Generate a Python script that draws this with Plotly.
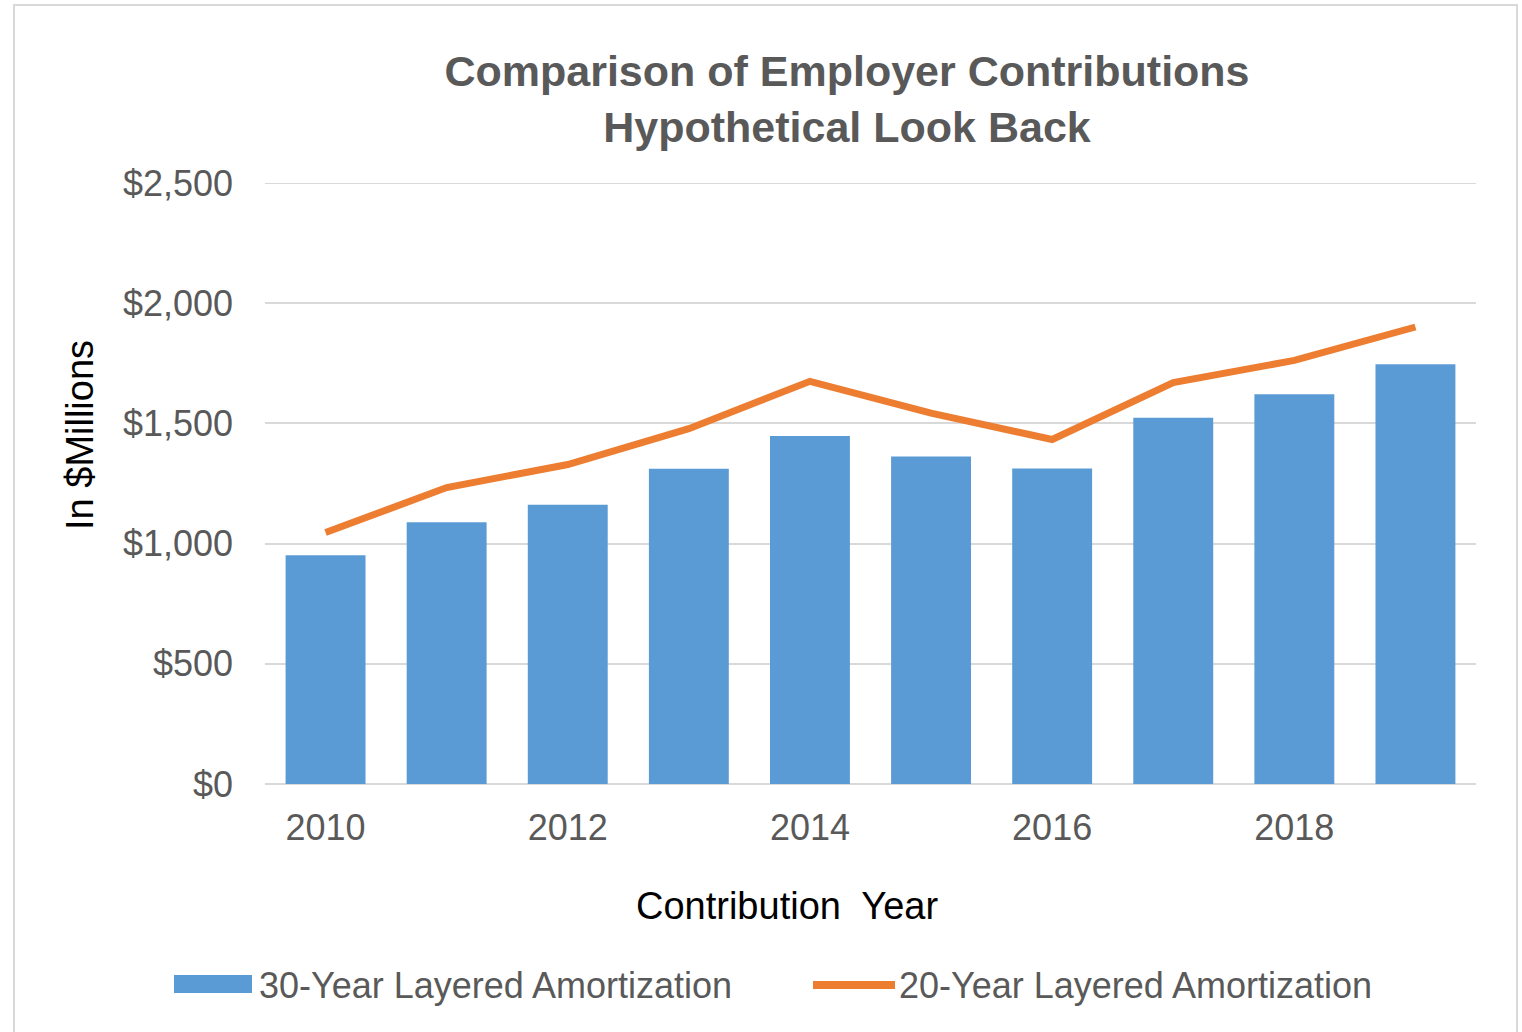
import plotly.graph_objects as go

# Contribution years and employer contributions (in $ millions)
years = [2010, 2011, 2012, 2013, 2014, 2015, 2016, 2017, 2018, 2019]
layered_30yr = [952, 1089, 1162, 1311, 1448, 1362, 1312, 1523, 1621, 1746]
layered_20yr = [1046, 1233, 1329, 1478, 1675, 1543, 1433, 1670, 1762, 1901]

series_names = ["30-Year Layered Amortization", "20-Year Layered Amortization"]
y_ticks = [0, 500, 1000, 1500, 2000, 2500]
y_tick_text = ["$0", "$500", "$1,000", "$1,500", "$2,000", "$2,500"]
x_ticks = [2010, 2012, 2014, 2016, 2018]

BLUE = "#5B9BD5"
ORANGE = "#ED7D31"
GRID = "#D9D9D9"
TEXT = "#595959"
FONT = "Liberation Sans, Arial, sans-serif"

W, H = 1522, 1032
ML, MR, MT, MB = 265, 46, 183, 248
PW, PH = W - ML - MR, H - MT - MB


def px_x(px):
    return (px - ML) / PW


def px_y(py):
    return (H - MB - py) / PH


fig = go.Figure()
fig.add_trace(go.Bar(x=years, y=layered_30yr, name=series_names[0],
                     marker=dict(color=BLUE, line=dict(width=0)),
                     showlegend=False))
fig.add_trace(go.Scatter(x=years, y=layered_20yr, name=series_names[1],
                         mode="lines", line=dict(color=ORANGE, width=7),
                         showlegend=False))

shapes = [
    # outer chart border
    dict(type="rect", xref="paper", yref="paper",
         x0=px_x(14), x1=px_x(1517), y0=px_y(1040), y1=px_y(5),
         line=dict(color=GRID, width=2), fillcolor="rgba(0,0,0,0)", layer="below"),
    # top gridline at $2,500 (sits on the edge of the plot area)
    dict(type="line", xref="paper", yref="y",
         x0=0, x1=1, y0=2500, y1=2500,
         line=dict(color=GRID, width=2), layer="below"),
    # legend swatches
    dict(type="rect", xref="paper", yref="paper",
         x0=px_x(174), x1=px_x(252), y0=px_y(993), y1=px_y(975),
         line=dict(width=0), fillcolor=BLUE),
    dict(type="line", xref="paper", yref="paper",
         x0=px_x(813), x1=px_x(895), y0=px_y(985), y1=px_y(985),
         line=dict(color=ORANGE, width=8)),
]

annotations = [
    dict(text=series_names[0], xref="paper", yref="paper",
         x=px_x(257), y=px_y(985), xanchor="left", yanchor="middle",
         showarrow=False, font=dict(family=FONT, size=36, color=TEXT)),
    dict(text=series_names[1], xref="paper", yref="paper",
         x=px_x(897), y=px_y(985), xanchor="left", yanchor="middle",
         showarrow=False, font=dict(family=FONT, size=36, color=TEXT)),
    dict(text="Contribution\u00a0 Year", xref="paper", yref="paper",
         x=px_x(787), y=px_y(906), xanchor="center", yanchor="middle",
         showarrow=False, font=dict(family=FONT, size=38, color="#000000")),
    dict(text="In $Millions", xref="paper", yref="paper", textangle=-90,
         x=px_x(80), y=px_y(435), xanchor="center", yanchor="middle",
         showarrow=False, font=dict(family=FONT, size=38, color="#000000")),
]

fig.update_layout(
    width=W, height=H,
    margin=dict(l=ML, r=MR, t=MT, b=MB, pad=0),
    paper_bgcolor="white", plot_bgcolor="white",
    bargap=0.34,
    title=dict(text="<b>Comparison of Employer Contributions<br>Hypothetical Look Back</b>",
               x=847 / W, xanchor="center", xref="container",
               y=1 - 86 / H, yanchor="middle", yref="container",
               font=dict(family=FONT, size=43, color=TEXT)),
    xaxis=dict(range=[2009.5, 2019.5], tickvals=x_ticks,
               ticktext=[str(v) for v in x_ticks],
               showgrid=False, zeroline=False, showline=False,
               ticks="", ticklabelstandoff=19,
               tickfont=dict(family=FONT, size=36, color=TEXT)),
    yaxis=dict(range=[0, 2500], tickvals=y_ticks, ticktext=y_tick_text,
               showgrid=True, gridcolor=GRID, gridwidth=2,
               zeroline=True, zerolinecolor=GRID, zerolinewidth=2,
               showline=False, ticks="", ticklabelstandoff=31,
               tickfont=dict(family=FONT, size=36, color=TEXT)),
    shapes=shapes,
    annotations=annotations,
    font=dict(family=FONT),
)

fig.write_html("out.html")
